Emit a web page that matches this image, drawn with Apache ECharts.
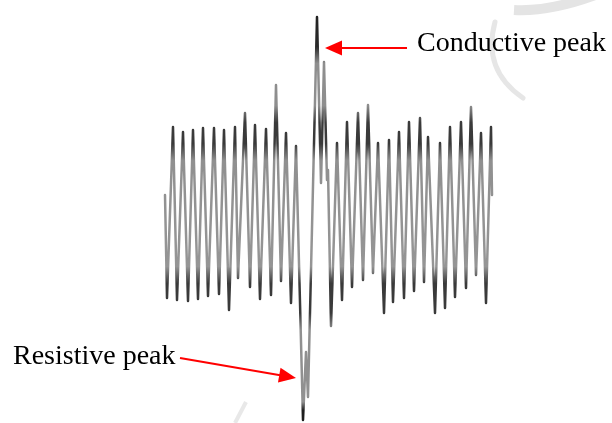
<!DOCTYPE html>
<html>
<head>
<meta charset="utf-8">
<script src="https://cdn.jsdelivr.net/npm/echarts@6/dist/echarts.min.js"></script>
<style>
  html, body { margin: 0; padding: 0; background: #ffffff; }
  #chart { width: 612px; height: 423px; }
</style>
</head>
<body>
<div id="chart"></div>
<script>
// Sample index of each turning point of the recorded signal
const sampleIndex = [
  5, 7, 13, 17, 23, 28, 33, 38, 43, 48, 54, 59, 64, 69, 75, 78, 85, 90, 95, 100,
  106, 111, 116, 121, 126, 131, 136, 143, 146, 148, 157, 161, 164, 167, 168, 171,
  177, 182, 187, 192, 198, 203, 208, 213, 218, 224, 229, 233, 239, 244, 249, 254,
  260, 264, 268, 275, 280, 285, 290, 295, 301, 306, 311, 316, 321, 326, 331, 332
];
// Signal amplitude at each turning point (arbitrary units)
const amplitude = [
  10, -41.5, 44, -42.5, 41.5, -43, 42.5, -42, 43.5, -40.5, 43.5, -39.5, 42.5, -47.5, 44, -31.5, 51, -36, 45, -42,
  43, -40, 65, -33, 41, -44, 34.5, -102.5, -68.5, -91, 99, 16, 76.5, 17.5, 22.5, -55.5,
  36, -42.5, 46.5, -36, 51, -32.5, 55, -29, 36, -49, 37.5, -43.5, 41.5, -41.5, 46.5, -38,
  48.5, -33.5, 39, -49, 36, -46.5, 44, -41, 46.5, -36.5, 54, -30, 41, -44, 44, 10
];
// Annotation labels
const labels = ['Conductive peak', 'Resistive peak'];

const signal = sampleIndex.map((t, i) => [t, amplitude[i]]);

const chart = echarts.init(document.getElementById('chart'), null, { renderer: 'canvas' });

// Filled arrow: shaft from (x1,y1) to the base of a triangular head whose tip is (x2,y2)
function arrow(x1, y1, x2, y2, headLen, headHalf, color) {
  const dx = x2 - x1, dy = y2 - y1;
  const len = Math.sqrt(dx * dx + dy * dy);
  const ux = dx / len, uy = dy / len;
  const bx = x2 - ux * headLen, by = y2 - uy * headLen;
  const px = -uy * headHalf, py = ux * headHalf;
  return [
    {
      type: 'line',
      shape: { x1: x1, y1: y1, x2: bx + ux, y2: by + uy },
      style: { stroke: color, lineWidth: 2 },
      z: 10
    },
    {
      type: 'polygon',
      shape: { points: [[x2, y2], [bx + px, by + py], [bx - px, by - py]] },
      style: { fill: color },
      z: 10
    }
  ];
}

const serif = '"Liberation Serif", "Times New Roman", serif';

const graphics = [
  // faint background watermark strokes
  {
    type: 'bezierCurve',
    shape: { x1: 495, y1: 22, cpx1: 482, cpy1: 70, x2: 523, y2: 98 },
    style: { stroke: '#e6e6e6', lineWidth: 5, fill: null, lineCap: 'round' },
    z: 0
  },
  {
    type: 'bezierCurve',
    shape: { x1: 514, y1: 10, cpx1: 550, cpy1: 12, x2: 598, y2: -6 },
    style: { stroke: '#e4e4e4', lineWidth: 10, fill: null },
    z: 0
  },
  {
    type: 'line',
    shape: { x1: 235, y1: 423, x2: 246, y2: 402 },
    style: { stroke: '#e8e8e8', lineWidth: 4 },
    z: 0
  },
  {
    type: 'text',
    style: {
      text: labels[0], x: 417, y: 44, fill: '#000000',
      font: '28px ' + serif, textAlign: 'left', textVerticalAlign: 'middle'
    },
    z: 10
  },
  {
    type: 'text',
    style: {
      text: labels[1], x: 13, y: 356.5, fill: '#000000',
      font: '28px ' + serif, textAlign: 'left', textVerticalAlign: 'middle'
    },
    z: 10
  }
].concat(
  arrow(407, 48, 325, 48, 17, 7.5, '#ff0000'),
  arrow(180, 358, 296, 378, 17, 7.5, '#ff0000')
);

// Trace shading: darker near the swing extremes, lighter along the strokes
const traceColor = new echarts.graphic.LinearGradient(0, 0, 0, 423, [
  { offset: 0.00, color: '#1e1e1e' },
  { offset: 0.11, color: '#2a2a2a' },
  { offset: 0.15, color: '#8e8e8e' },
  { offset: 0.25, color: '#8e8e8e' },
  { offset: 0.29, color: '#3a3a3a' },
  { offset: 0.34, color: '#3a3a3a' },
  { offset: 0.38, color: '#909090' },
  { offset: 0.63, color: '#959595' },
  { offset: 0.67, color: '#3a3a3a' },
  { offset: 0.74, color: '#3a3a3a' },
  { offset: 0.78, color: '#909090' },
  { offset: 0.95, color: '#909090' },
  { offset: 0.97, color: '#1e1e1e' },
  { offset: 1.00, color: '#1e1e1e' }
], true);

chart.setOption({
  animation: false,
  backgroundColor: '#ffffff',
  grid: { left: 160, right: 112, top: 15, bottom: 0, containLabel: false },
  xAxis: {
    type: 'value', min: 0, max: 340,
    show: false
  },
  yAxis: {
    type: 'value', min: -104, max: 100,
    show: false
  },
  series: [
    {
      type: 'line',
      data: signal,
      showSymbol: false,
      symbol: 'none',
      clip: false,
      lineStyle: { color: traceColor, width: 2.5, join: 'round', cap: 'round' },
      z: 5
    }
  ],
  graphic: graphics
});
</script>
</body>
</html>
